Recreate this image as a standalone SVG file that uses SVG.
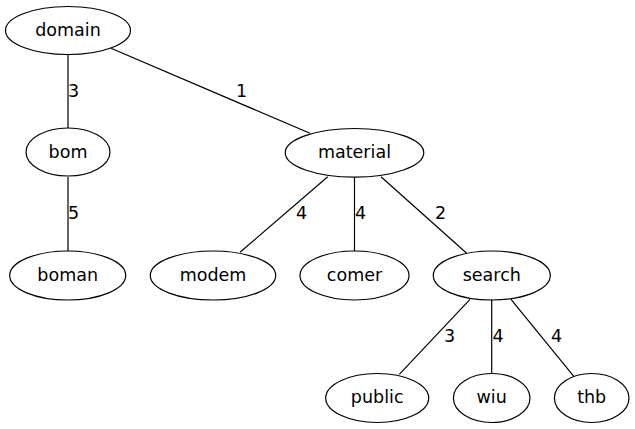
<svg xmlns="http://www.w3.org/2000/svg" width="635" height="429" viewBox="0 0 635 429">
<style>
.n ellipse{fill:none;stroke:#000;stroke-width:1.2}
.n text{font-family:"DejaVu Sans",sans-serif;font-size:17.5px;text-anchor:middle;fill:#000}
#edges line{stroke:#000;stroke-width:1.2}
#edges text{font-family:"DejaVu Sans",sans-serif;font-size:17.5px;text-anchor:middle;fill:#000}
</style>
<rect width="635" height="429" fill="#fff"/>
<g id="edges">
<line x1="68" y1="54.5" x2="68" y2="128"/>
<line x1="111" y1="48.3" x2="310" y2="133.3"/>
<line x1="68" y1="177" x2="68" y2="251"/>
<line x1="327.7" y1="176.7" x2="240" y2="252.3"/>
<line x1="354.5" y1="177" x2="354.5" y2="251"/>
<line x1="381" y1="176.7" x2="466.7" y2="253.3"/>
<line x1="470" y1="299.3" x2="399.3" y2="374.3"/>
<line x1="491.7" y1="299.5" x2="491.7" y2="373"/>
<line x1="511" y1="299.3" x2="574" y2="376.7"/>
<text x="73.5" y="96.5">3</text>
<text x="241.5" y="96.5">1</text>
<text x="73.5" y="218.5">5</text>
<text x="301.5" y="218.5">4</text>
<text x="360.5" y="219">4</text>
<text x="440.5" y="219">2</text>
<text x="449.5" y="341.5">3</text>
<text x="498" y="341.5">4</text>
<text x="556.5" y="341.5">4</text>
</g>
<g id="domain" class="n"><ellipse cx="68" cy="30.5" rx="62.5" ry="24"/><text x="68" y="35.5">domain</text></g>
<g id="bom" class="n"><ellipse cx="68" cy="152" rx="42" ry="24"/><text x="68" y="158">bom</text></g>
<g id="boman" class="n"><ellipse cx="67.7" cy="275.5" rx="58" ry="24.5"/><text x="67.7" y="281">boman</text></g>
<g id="material" class="n"><ellipse cx="354.5" cy="152.8" rx="69.3" ry="24.3"/><text x="354.5" y="158.3">material</text></g>
<g id="modem" class="n"><ellipse cx="213" cy="275.5" rx="62.7" ry="24.5"/><text x="213" y="281">modem</text></g>
<g id="comer" class="n"><ellipse cx="354.5" cy="275.5" rx="54.5" ry="24.5"/><text x="354.5" y="281">comer</text></g>
<g id="search" class="n"><ellipse cx="491.8" cy="275.5" rx="58.5" ry="24.5"/><text x="491.8" y="281">search</text></g>
<g id="public" class="n"><ellipse cx="377.2" cy="398" rx="51.5" ry="24.5"/><text x="377.2" y="403.3">public</text></g>
<g id="wiu" class="n"><ellipse cx="491.7" cy="398" rx="38.3" ry="24.5"/><text x="491.7" y="403.3">wiu</text></g>
<g id="thb" class="n"><ellipse cx="591.7" cy="398" rx="37.3" ry="24.5"/><text x="591.7" y="403.3">thb</text></g>
</svg>
